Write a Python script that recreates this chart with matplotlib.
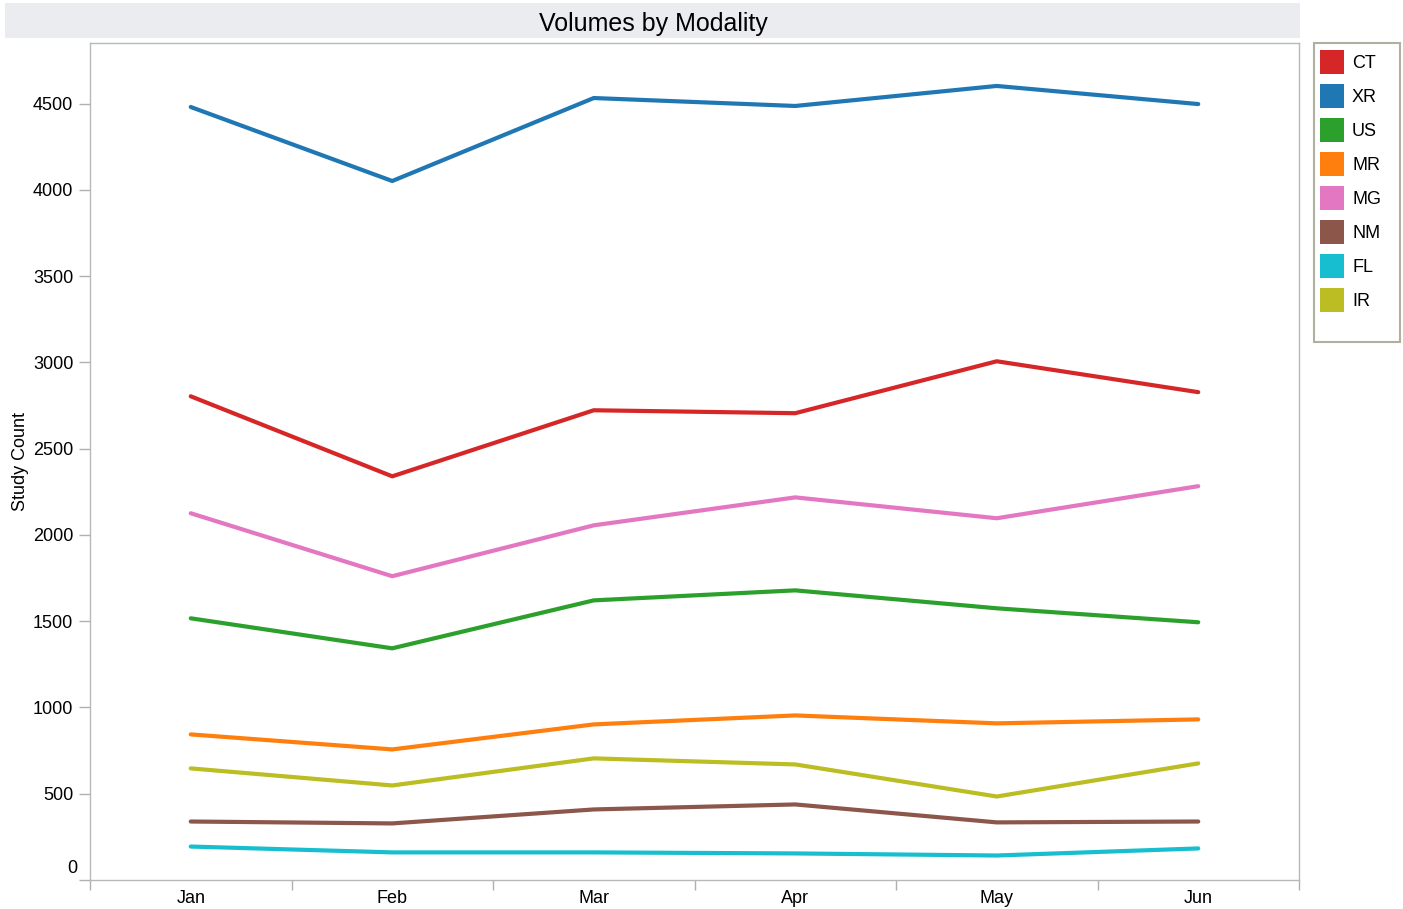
import matplotlib.pyplot as plt
from matplotlib.patches import Rectangle

plt.rcParams['font.family'] = ['Liberation Sans', 'DejaVu Sans']

months = ["Jan", "Feb", "Mar", "Apr", "May", "Jun"]
modalities = ["CT", "XR", "US", "MR", "MG", "NM", "FL", "IR"]
colors = ["#d62728", "#1f77b4", "#2ca02c", "#ff7f0e",
          "#e377c2", "#8c564b", "#17becf", "#bcbd22"]

ct = [2804, 2340, 2723, 2706, 3007, 2828]
xr = [4481, 4052, 4533, 4487, 4603, 4498]
us = [1517, 1343, 1621, 1679, 1575, 1494]
mr = [844, 757, 902, 954, 908, 931]
mg = [2126, 1761, 2056, 2218, 2097, 2283]
nm = [339, 328, 409, 438, 334, 339]
fl = [194, 160, 160, 154, 142, 183]
ir = [647, 548, 705, 670, 484, 676]
series = [ct, xr, us, mr, mg, nm, fl, ir]
yticks = list(range(0, 5000, 500))

W, H = 1403, 909
fig = plt.figure(figsize=(W / 100, H / 100), dpi=100)
ax = fig.add_axes([90 / W, (H - 880) / H, (1299 - 90) / W, (880 - 43) / H])

x = list(range(len(months)))
for name, vals, c in zip(modalities, series, colors):
    ax.plot(x, vals, color=c, lw=3, solid_capstyle="round", solid_joinstyle="round")

ax.set_xlim(-0.5, len(months) - 0.5)
ax.set_ylim(0, 4852)

# x: ticks on category boundaries, labels centred on categories
ax.set_xticks([i - 0.5 for i in range(len(months) + 1)])
ax.set_xticklabels([])
ax.tick_params(axis="x", length=7, color="#b0b0b0", width=1)
for i, m in enumerate(months):
    ax.annotate(m, xy=(i, 0), xycoords=("data", "axes fraction"),
                xytext=(0, -16.5), textcoords="offset points",
                ha="center", va="baseline", fontsize=13)

# y: the 0 label sits above the axis line
ax.set_yticks(yticks)
ax.set_yticklabels([str(v) if v else "" for v in yticks])
ax.tick_params(axis="y", length=8, color="#b0b0b0", width=1, labelsize=13, pad=4)
ax.annotate("0", xy=(0, 0), xycoords=("axes fraction", "data"),
            xytext=(-9.4, 5), textcoords="offset points",
            ha="right", va="baseline", fontsize=13)

for s in ax.spines.values():
    s.set_color("#b8b8b8")
    s.set_linewidth(1)
ax.set_ylabel("Study Count", fontsize=13)
ax.yaxis.set_label_coords(-61 / (1299 - 90), 0.5)

# title bar
fig.patches.append(Rectangle((5 / W, (H - 38) / H), (1300 - 5) / W, 35 / H,
                             transform=fig.transFigure, facecolor="#ebecf0",
                             edgecolor="none"))
fig.text(653 / W, (H - 21) / H, "Volumes by Modality", ha="center",
         va="center_baseline", fontsize=18)

# legend box drawn by hand to keep the reference's spacing
fig.patches.append(Rectangle((1314 / W, (H - 342) / H), 86 / W, 299 / H,
                             transform=fig.transFigure, facecolor="white",
                             edgecolor="#b0b0a0", linewidth=1.5))
for i, (name, c) in enumerate(zip(modalities, colors)):
    yc = 62 + 34 * i
    fig.patches.append(Rectangle((1320 / W, (H - yc - 12) / H), 24 / W, 24 / H,
                                 transform=fig.transFigure, facecolor=c,
                                 edgecolor="none"))
    fig.text(1352 / W, (H - yc) / H, name, ha="left", va="center_baseline",
             fontsize=13)

fig.savefig("out.png", dpi=100)
